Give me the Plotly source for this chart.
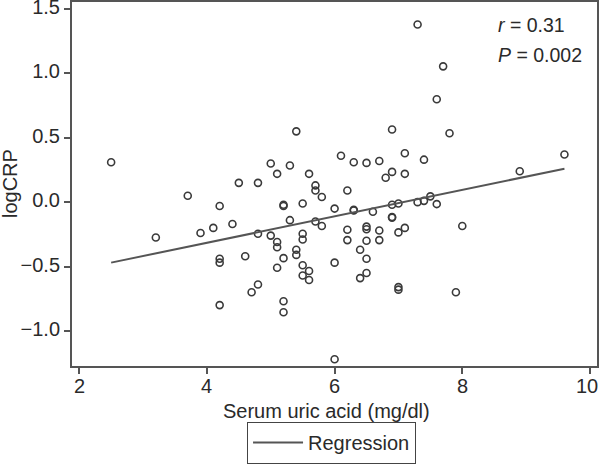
import plotly.graph_objects as go

# Serum uric acid (mg/dl)
uric_acid = [2.5, 3.2, 3.7, 3.9, 4.1, 4.2, 4.2, 4.2, 4.2, 4.4,
             4.5, 4.6, 4.7, 4.8, 4.8, 4.8, 5.0, 5.0, 5.1, 5.1,
             5.1, 5.1, 5.2, 5.2, 5.2, 5.2, 5.2, 5.3, 5.3, 5.4,
             5.4, 5.4, 5.5, 5.5, 5.5, 5.5, 5.5, 5.6, 5.6, 5.6,
             5.7, 5.7, 5.7, 5.8, 5.8, 6.0, 6.0, 6.0, 6.1, 6.2,
             6.2, 6.2, 6.3, 6.3, 6.3, 6.4, 6.4, 6.5, 6.5, 6.5,
             6.5, 6.5, 6.5, 6.6, 6.7, 6.7, 6.7, 6.8, 6.9, 6.9,
             6.9, 6.9, 6.9, 7.0, 7.0, 7.0, 7.0, 7.1, 7.1, 7.1,
             7.3, 7.3, 7.4, 7.4, 7.5, 7.6, 7.6, 7.7, 7.8, 7.9,
             8.0, 8.9, 9.6]
# logCRP
log_crp = [0.31, -0.275, 0.05, -0.24, -0.20, -0.03, -0.44, -0.47, -0.80, -0.17,
           0.15, -0.42, -0.70, 0.15, -0.245, -0.64, 0.30, -0.26, 0.22, -0.31,
           -0.35, -0.51, -0.02, -0.03, -0.435, -0.77, -0.855, 0.285, -0.14, 0.55,
           -0.37, -0.41, -0.01, -0.245, -0.29, -0.49, -0.57, 0.22, -0.535, -0.605,
           0.13, 0.09, -0.15, 0.04, -0.185, -0.05, -0.47, -1.22, 0.36, 0.09,
           -0.215, -0.295, 0.31, -0.06, -0.065, -0.37, -0.59, 0.305, -0.19, -0.21,
           -0.30, -0.44, -0.55, -0.075, 0.32, -0.22, -0.295, 0.19, 0.565, 0.235,
           -0.02, -0.115, -0.12, -0.01, -0.235, -0.66, -0.68, 0.38, 0.22, -0.20,
           1.38, 0.0, 0.33, 0.01, 0.045, 0.80, -0.015, 1.055, 0.535, -0.70,
           -0.185, 0.24, 0.37]

# Regression line end points
reg_x = [2.5, 9.6]
reg_y = [-0.47, 0.26]

x_ticks = [2, 4, 6, 8, 10]
x_tick_labels = ["2", "4", "6", "8", "10"]
y_ticks = [-1.0, -0.5, 0.0, 0.5, 1.0, 1.5]
y_tick_labels = ["\u22121.0", "\u22120.5", "0.0", "0.5", "1.0", "1.5"]

FONT = "Liberation Sans, Arial, Helvetica, sans-serif"
AX = "#555555"
TXT = "#2a2a2a"

fig = go.Figure()
fig.add_trace(go.Scatter(
    x=uric_acid, y=log_crp, mode="markers", showlegend=False, cliponaxis=False,
    marker=dict(symbol="circle-open", size=7, color="#3a3a3a",
                line=dict(width=1.6, color="#3a3a3a")),
))
fig.add_trace(go.Scatter(
    x=reg_x, y=reg_y, mode="lines", name="Regression",
    line=dict(color="#555555", width=2),
))

annotations = [
    dict(xref="paper", yref="paper", x=0.8076, y=0.937, xanchor="left", yanchor="middle",
         text="<i>r</i> = 0.31", showarrow=False, font=dict(size=19.5, color=TXT)),
    dict(xref="paper", yref="paper", x=0.8076, y=0.854, xanchor="left", yanchor="middle",
         text="<i>P</i> = 0.002", showarrow=False, font=dict(size=19.5, color=TXT)),
    dict(xref="paper", yref="paper", x=0.484, y=-0.1236, xanchor="center", yanchor="middle",
         text="Serum uric acid (mg/dl)", showarrow=False, font=dict(size=20, color=TXT)),
    dict(xref="paper", yref="paper", x=-0.118, y=0.5, xanchor="center", yanchor="middle",
         text="logCRP", textangle=-90, showarrow=False, font=dict(size=20, color=TXT)),
]
# x tick labels (last one nudged left so it stays inside the frame, as in the reference)
for i, (tv, tt) in enumerate(zip(x_ticks, x_tick_labels)):
    annotations.append(dict(
        xref="x", yref="paper", x=tv, y=-0.0536, xanchor="center", yanchor="middle",
        xshift=-3 if i == len(x_ticks) - 1 else 0,
        text=tt, showarrow=False, font=dict(size=20, color=TXT)))

fig.update_layout(
    width=600, height=465,
    margin=dict(l=72, r=3, t=2, b=99, autoexpand=False),
    paper_bgcolor="white", plot_bgcolor="white",
    font=dict(family=FONT, size=20, color=TXT),
    showlegend=True,
    legend=dict(orientation="h", x=0.494, xanchor="center", y=-0.269, yanchor="bottom",
                bordercolor="#444444", borderwidth=1.2, bgcolor="white", itemwidth=50,
                font=dict(size=20, color=TXT)),
    xaxis=dict(range=[1.887, 10.11], tickvals=x_ticks, showgrid=False, zeroline=False,
               showline=True, linecolor=AX, linewidth=2, mirror=True,
               ticks="outside", ticklen=6, tickwidth=1.5, tickcolor=AX,
               showticklabels=False, automargin=False),
    yaxis=dict(range=[-1.273, 1.555], tickvals=y_ticks, ticktext=y_tick_labels,
               showgrid=False, zeroline=False,
               showline=True, linecolor=AX, linewidth=2, mirror=True,
               ticks="outside", ticklen=6, tickwidth=1.5, tickcolor=AX,
               ticklabeloverflow="allow", automargin=False, ticklabelshift=-2,
               tickfont=dict(size=20, color=TXT)),
    annotations=annotations,
)

fig.write_html("out.html",
               config={"displayModeBar": False},
               post_script="document.body.style.margin='0';document.body.style.overflow='hidden';")
